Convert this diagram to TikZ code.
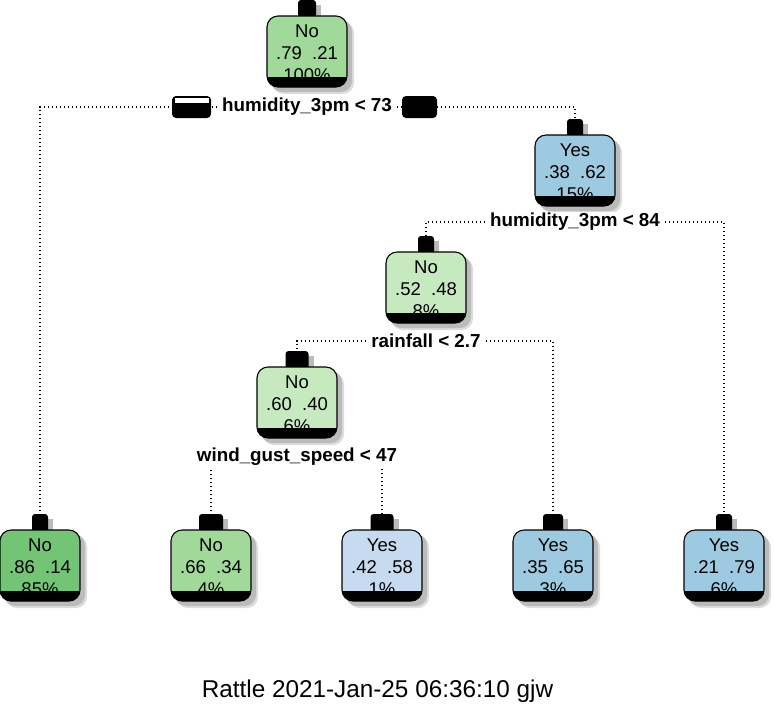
\documentclass[tikz,border=0pt]{standalone}
\usepackage{fontspec}
\setmainfont{Liberation Sans}
\pgfdeclarelayer{bg}
\pgfsetlayers{bg,main}
\definecolor{gA}{HTML}{74C476}
\definecolor{gB}{HTML}{A1D99B}
\definecolor{gC}{HTML}{C7E9C0}
\definecolor{bA}{HTML}{9ECAE1}
\definecolor{bB}{HTML}{C6DBEF}
\definecolor{shlight}{HTML}{DDDDDD}
\definecolor{shdark}{HTML}{BBBBBB}
\tikzset{
  rpnode/.style={rectangle,rounded corners=11pt,minimum width=80pt,minimum height=71pt,inner sep=0pt,outer sep=0pt},
  rptext/.style={font=\fontsize{18.5}{18.5}\selectfont,inner sep=0pt},
  splitlab/.style={font=\fontsize{18.8}{18.8}\selectfont\bfseries,fill=white,inner xsep=5pt,inner ysep=1pt},
  conn/.style={line width=1.3pt,dash pattern=on 1.3pt off 2.7pt},
  tagbox/.style={fill=black,rounded corners=4pt,minimum height=22pt,inner sep=0pt,outer sep=0pt},
}
\newcommand\rpbox[8]{%
  \fill[shlight,rounded corners=11pt] (#2-40+6,#3+6) rectangle (#2+40+7,#3+71+7);
  \fill[shdark,rounded corners=11pt] (#2-40+4,#3+4) rectangle (#2+40+5,#3+71+5);
  \fill[shdark] (#2-#4/2+4,#3-16+5) rectangle (#2+#4/2+5,#3+5);
  \fill[black,rounded corners=3pt] (#2-#4/2,#3+4) rectangle (#2+#4/2,#3-16);
  \node[rpnode,fill=#5] (#1) at (#2,#3+35.5) {};
  \coordinate (#1t) at (#2,#3-16);
  \node[rptext] at (#2,#3+15) {#6};
  \node[rptext] at (#2,#3+37) {#7};
  \node[rptext] at (#2,#3+59.5) {#8};
  \begin{scope}
    \clip[rounded corners=11pt] (#1.south west) rectangle (#1.north east);
    \fill[black] (#2-41,#3+61) rectangle (#2+41,#3+72);
  \end{scope}
  \draw[line width=1.1pt,rounded corners=11pt] (#1.south west) rectangle (#1.north east);
}
\begin{document}
\begin{tikzpicture}[x=1pt,y=-1pt]
\useasboundingbox (0,0) rectangle (775,716);
% internal nodes
\rpbox{n1}{307}{16}{18}{gB}{No}{.79\ \ .21}{100\%}
\rpbox{n3}{575}{135}{16}{bA}{Yes}{.38\ \ .62}{15\%}
\rpbox{n6}{426}{252}{16}{gC}{No}{.52\ \ .48}{8\%}
\rpbox{n12}{297}{367}{23}{gC}{No}{.60\ \ .40}{6\%}
% leaves
\rpbox{l1}{40}{530}{16}{gA}{No}{.86\ \ .14}{85\%}
\rpbox{l2}{211}{530}{24}{gB}{No}{.66\ \ .34}{4\%}
\rpbox{l3}{382}{530}{23}{bB}{Yes}{.42\ \ .58}{1\%}
\rpbox{l4}{553}{530}{20}{bA}{Yes}{.35\ \ .65}{3\%}
\rpbox{l5}{724}{530}{16}{bA}{Yes}{.21\ \ .79}{6\%}
% split labels
\node[splitlab] (s1) at (307,107) {humidity\_3pm < 73};
\node[splitlab] (s3) at (575,222) {humidity\_3pm < 84};
\node[splitlab] (s6) at (426,341) {rainfall < 2.7};
\node[splitlab] (s12) at (297,457) {wind\_gust\_speed < 47};
% yes / no tags
\node[tagbox,minimum width=39pt] (yes) at (191.5,107) {};
\fill[white] (174.5,98) rectangle (208.5,102.5);
\node[tagbox,minimum width=35pt] (no) at (419.5,107) {};
% title
\node[font=\fontsize{24.3}{24.3}\selectfont,inner sep=0pt] (title) at (377.5,691) {Rattle 2021-Jan-25 06:36:10 gjw};
% connectors
\begin{pgfonlayer}{bg}
\draw[conn] (s1) -| (l1t);
\draw[conn] (s1) -| (n3t);
\draw[conn] (s3) -| (n6t);
\draw[conn] (s3) -| (l5t);
\draw[conn] (s6) -| (n12t);
\draw[conn] (s6) -| (l4t);
\draw[conn] (s12) -| (l2t);
\draw[conn] (s12) -| (l3t);
\end{pgfonlayer}
\end{tikzpicture}
\end{document}
